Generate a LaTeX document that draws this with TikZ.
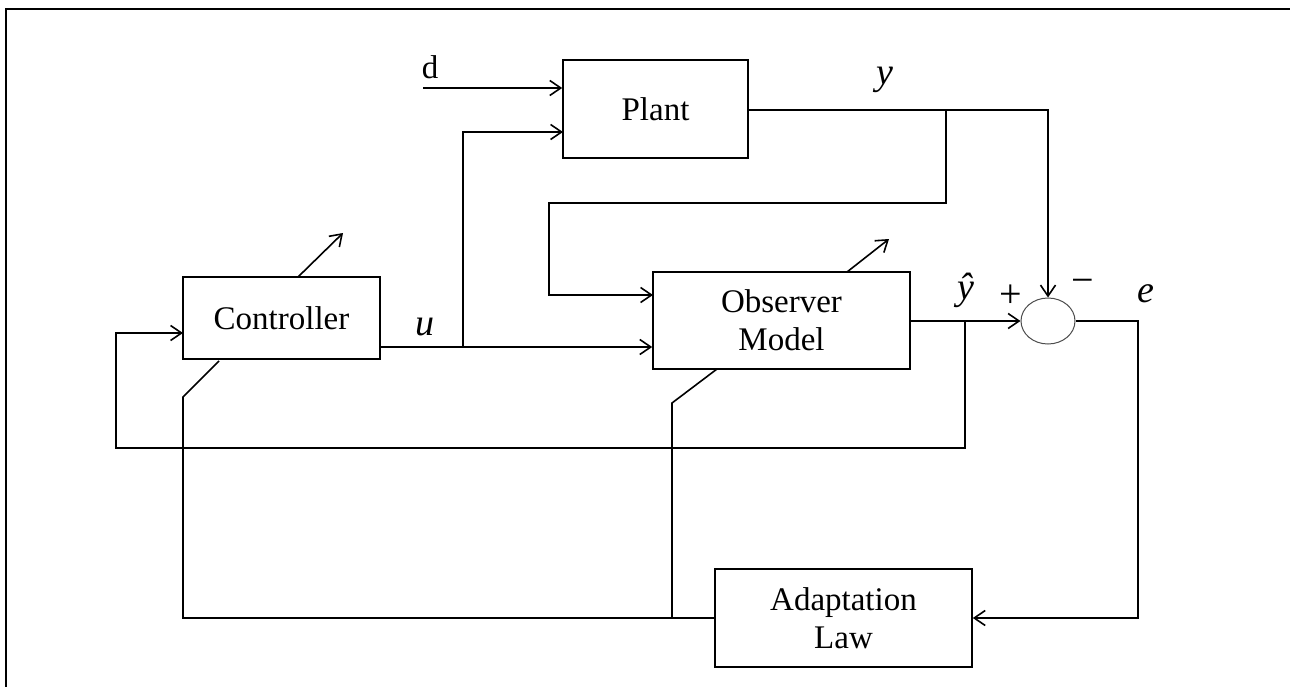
\documentclass[tikz,border=0pt]{standalone}
\usepackage{fontspec}
\setmainfont{Liberation Serif}
\usetikzlibrary{arrows.meta,shapes.geometric}
\begin{document}
\begin{tikzpicture}[x=1pt,y=-1pt,
  line width=1.6pt,
  box/.style={draw, rectangle, line width=1.6pt, align=center, inner sep=0pt,
    font=\fontsize{33}{38}\selectfont},
  arr/.style={-{Straight Barb[length=11pt,width=15pt,line width=1.6pt]}},
  lbl/.style={inner sep=0pt, font=\fontsize{38}{44}\selectfont\itshape},
  sgn/.style={inner sep=0pt, font=\fontsize{40}{46}\selectfont}]
\useasboundingbox (0,0) rectangle (1290,687);
% frame
\draw[line width=2pt] (6,687) -- (6,9.5) -- (1290,9.5);
% blocks
\node[box, minimum width=185pt, minimum height=98pt] (plant) at (655.5,109) {Plant};
\node[box, minimum width=257pt, minimum height=97pt] (obs) at (781.5,320.5) {Observer\\Model};
\node[box, line width=2.2pt, minimum width=197pt, minimum height=82pt] (ctrl) at (281.5,318) {Controller};
\node[box, minimum width=257pt, minimum height=98pt] (adapt) at (843.5,618) {Adaptation\\Law};
\node[draw=black!70, line width=1pt, ellipse, minimum width=54pt, minimum height=46pt, inner sep=0pt] (sum) at (1048,321) {};
% coordinates
\coordinate (d0) at (423,88);
\coordinate (u0) at (380,347);
\coordinate (ub) at (463,347);
\coordinate (y0) at (748,110);
\coordinate (yb) at (946,110);
\coordinate (yh0) at (910,321);
\coordinate (yhb) at (965,321);
\coordinate (ctrlin) at (183,333);
\coordinate (plin2) at (563,132);
\coordinate (obsin1) at (653,295);
\coordinate (ad0) at (715,618);
\coordinate (adb) at (672,618);
\coordinate (cb) at (219,361);
\coordinate (ob) at (717,369);
\coordinate (ct0) at (298,277);
\coordinate (ct1) at (343,233);
\coordinate (ot0) at (847,272);
\coordinate (ot1) at (889,239);
% connectors
\draw[arr] (d0) -- (d0 -| plant.west);
\draw[arr] (u0) -- (u0 -| obs.west);
\draw[arr] (ub) -- (463,132) -- (plin2);
\draw[arr] (y0) -- (1048,110) -- (sum.north);
\draw[arr] (yb) -- (946,203) -- (549,203) -- (549,295) -- (obsin1);
\draw[arr] (yh0) -- (sum.west);
\draw[arr] (yhb) -- (965,448) -- (116,448) -- (116,333) -- (ctrlin);
\draw[arr] (sum.east) -- (1138,321) -- (1138,618) -- (adapt.east);
\draw (ad0) -- (183,618) -- (183,397) -- (cb);
\draw (adb) -- (672,403) -- (ob);
\draw[arr] (ct0) -- (ct1);
\draw[arr] (ot0) -- (ot1);
% labels
\node[box, draw=none] (ld) at (430,67) {d};
\node[lbl] (ly) at (885,80) {y};
\node[lbl] (lu) at (425,327) {u};
\node[lbl] (lyh) at (966,290) {ŷ};
\node[sgn] (lp) at (1011,296) {+};
\node[sgn] (lm) at (1083,286) {−};
\node[lbl] (le) at (1146,294) {e};
\end{tikzpicture}
\end{document}
